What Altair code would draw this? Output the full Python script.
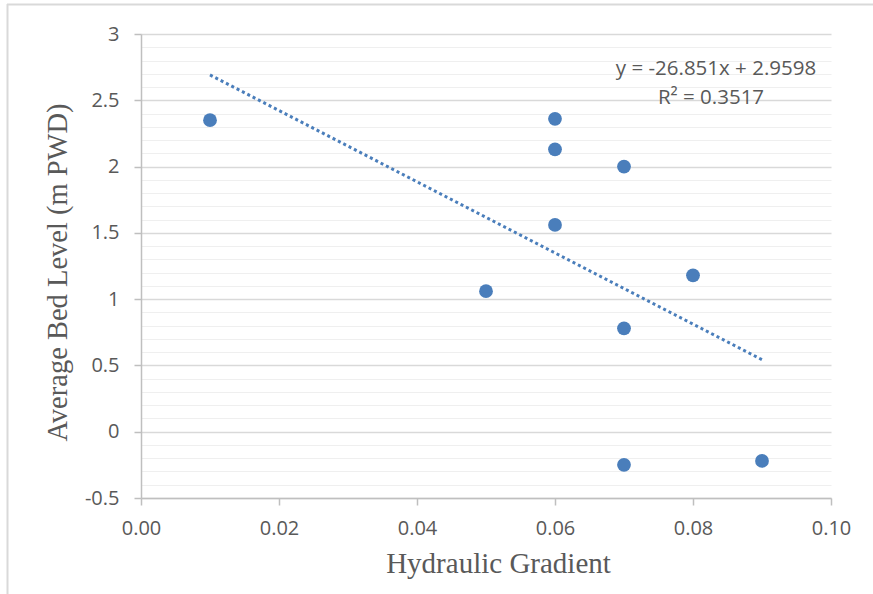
import altair as alt
import pandas as pd

# Data
gradient = [0.01, 0.05, 0.06, 0.06, 0.06, 0.07, 0.07, 0.07, 0.08, 0.09]
bed_level = [2.35, 1.06, 2.36, 2.13, 1.56, 2.00, 0.78, -0.25, 1.18, -0.22]

x_ticks = [0.0, 0.02, 0.04, 0.06, 0.08, 0.10]
y_grid = [round(-0.5 + 0.1 * i, 1) for i in range(36)]
equation_line = "y = -26.851x + 2.9598"
r2_line = "R\u00b2 = 0.3517"

df = pd.DataFrame({"x": gradient, "y": bed_level})

BLUE = "#4a7ebb"
GRAY_TXT = "#595959"
MAJOR = "abs(datum.value*2 - round(datum.value*2)) < 0.001"

x_scale = alt.Scale(domain=[0, 0.10], nice=False, zero=False)
y_scale = alt.Scale(domain=[-0.5, 3], nice=False, zero=False)

x_axis = alt.Axis(
    title="Hydraulic Gradient",
    values=x_ticks,
    tickCount=20,
    format=".2f",
    grid=False,
    labelFlush=False,
    labelOverlap=False,
    tickSize=7,
    tickColor="#bfbfbf",
    tickWidth=1.5,
    domainColor="#bfbfbf",
    domainWidth=1.5,
    labelFont="Open Sans",
    labelFontSize=20,
    labelColor=GRAY_TXT,
    labelPadding=13,
    titleFont="Liberation Serif",
    titleFontSize=29,
    titleFontWeight="normal",
    titleColor=GRAY_TXT,
    titleBaseline="alphabetic",
    titleX=357,
    titleY=74,
)

y_axis = alt.Axis(
    title="Average Bed Level (m PWD)",
    values=y_grid,
    tickCount=100,
    labelExpr=f"{MAJOR} ? '' + datum.value : ''",
    labelOverlap=False,
    labelFlush=False,
    grid=True,
    gridColor={"condition": {"test": MAJOR, "value": "#d9d9d9"}, "value": "#efefef"},
    gridWidth={"condition": {"test": MAJOR, "value": 1.5}, "value": 1.2},
    tickSize=7,
    tickColor="#bfbfbf",
    tickWidth=1.5,
    tickOpacity={"condition": {"test": MAJOR, "value": 1}, "value": 0},
    domainColor="#bfbfbf",
    domainWidth=1.5,
    labelFont="Open Sans",
    labelFontSize=20,
    labelColor=GRAY_TXT,
    labelPadding=15,
    titleFont="Liberation Serif",
    titleFontSize=28.5,
    titleFontWeight="normal",
    titleColor=GRAY_TXT,
    titleAngle=270,
    titleBaseline="alphabetic",
    titleAlign="center",
    titleX=-75,
    titleY=238,
)

base = alt.Chart(df)

points = base.mark_circle(size=190, color=BLUE, opacity=1).encode(
    x=alt.X("x:Q", scale=x_scale, axis=x_axis),
    y=alt.Y("y:Q", scale=y_scale, axis=y_axis),
)

trend = base.transform_regression("x", "y").mark_line(
    color=BLUE, strokeWidth=3, strokeDash=[3, 3]
).encode(
    x=alt.X("x:Q", scale=x_scale),
    y=alt.Y("y:Q", scale=y_scale),
)

one = pd.DataFrame({"k": [0]})
text_style = dict(font="Open Sans", fontSize=20.5, color=GRAY_TXT,
                  align="center", baseline="middle")

eq_label = alt.Chart(one).mark_text(**text_style).encode(
    x=alt.datum(0.08333, scale=x_scale),
    y=alt.datum(2.735, scale=y_scale),
    text=alt.value(equation_line),
)
r2_label = alt.Chart(one).mark_text(**text_style).encode(
    x=alt.datum(0.08261, scale=x_scale),
    y=alt.datum(2.52, scale=y_scale),
    text=alt.value(r2_line),
)

frame_top = alt.Chart(one).mark_rule(
    color="#d9d9d9", strokeWidth=2
).encode(x=alt.value(-134), x2=alt.value(740), y=alt.value(-29.5))

frame_left = alt.Chart(one).mark_rule(
    color="#d9d9d9", strokeWidth=2
).encode(x=alt.value(-133.5), y=alt.value(-30), y2=alt.value(570))

chart = alt.layer(frame_top, frame_left, trend, points, eq_label, r2_label).properties(
    width=690,
    height=464,
    autosize=alt.AutoSizeParams(type="none"),
    padding={"left": 141, "top": 34, "right": 42, "bottom": 96},
    background="white",
).configure_view(stroke=None)

chart.save("out.html", embed_options={"renderer": "svg", "actions": False})
